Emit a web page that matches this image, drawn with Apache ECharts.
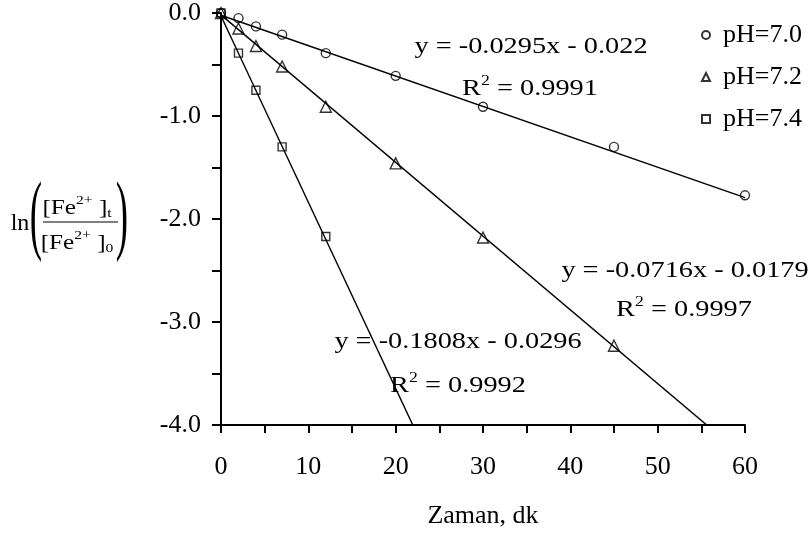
<!DOCTYPE html>
<html>
<head>
<meta charset="utf-8">
<script src="https://cdn.jsdelivr.net/npm/echarts@6/dist/echarts.min.js"></script>
<style>
  html, body { margin: 0; padding: 0; background: #fff; }
  #chart { width: 809px; height: 538px; }
</style>
</head>
<body>
<div id="chart"></div>
<script>
// Oxidation of Fe(II): ln([Fe2+]t/[Fe2+]0) against time at three pH values
const seriesNames = ['pH=7.0', 'pH=7.2', 'pH=7.4'];
const symbols = ['circle', 'triangle', 'rect'];

const time70 = [0, 2, 4, 7, 12, 20, 30, 45, 60];
const lnRatio70 = [0, -0.05, -0.13, -0.21, -0.39, -0.61, -0.91, -1.30, -1.77];

const time72 = [0, 2, 4, 7, 12, 20, 30, 45];
const lnRatio72 = [0, -0.15, -0.32, -0.52, -0.91, -1.46, -2.18, -3.23];

const time74 = [0, 2, 4, 7, 12];
const lnRatio74 = [0, -0.39, -0.75, -1.30, -2.17];

// linear fits y = slope*x + intercept
const slopes = [-0.0295, -0.0716, -0.1808];
const intercepts = [-0.022, -0.0179, -0.0296];
const rSquared = ['0.9991', '0.9997', '0.9992'];
const fitEndTime = 60;

const xTicks = [0, 10, 20, 30, 40, 50, 60];
const yTicks = [0, -1, -2, -3, -4];

const FONT = 'Liberation Serif, Times New Roman, serif';

function pairs(xs, ys) { return xs.map((x, i) => [x, ys[i]]); }
const times = [time70, time72, time74];
const values = [lnRatio70, lnRatio72, lnRatio74];

function eqText(i) {
  const m = slopes[i], b = intercepts[i];
  return 'y = ' + m.toString() + 'x ' + (b < 0 ? '- ' : '+ ') + Math.abs(b).toString();
}

// text width helper for laying out super/subscripts
const measureCtx = document.createElement('canvas').getContext('2d');
function textWidth(t, size) {
  measureCtx.font = size + 'px "Liberation Serif"';
  return measureCtx.measureText(t).width;
}
// a centred run of text pieces; each piece may be shifted up/down
function textRun(cx, cy, pieces, scaleX) {
  const total = pieces.reduce((s, p) => s + textWidth(p.t, p.size), 0);
  let x = -total / 2;
  const children = pieces.map(p => {
    const el = {
      type: 'text', x: x, y: p.dy || 0,
      style: { text: p.t, fontSize: p.size, fontFamily: FONT, fill: '#000',
               textAlign: 'left', textVerticalAlign: 'middle' }
    };
    x += textWidth(p.t, p.size);
    return el;
  });
  return { type: 'group', x: cx, y: cy, scaleX: scaleX, silent: true, z: 10, children: children };
}

const chart = echarts.init(document.getElementById('chart'), null, { renderer: 'canvas' });

const series = [];
for (let i = 0; i < 3; i++) {
  series.push({
    name: seriesNames[i] + ' fit',
    type: 'line',
    data: [[0, intercepts[i]], [fitEndTime, slopes[i] * fitEndTime + intercepts[i]]],
    showSymbol: false,
    clip: true,
    lineStyle: { color: '#000', width: 1.4 },
    silent: true,
    z: 2
  });
}
const symbolSizes = [9, 11, 8];
for (let i = 0; i < 3; i++) {
  series.push({
    name: seriesNames[i],
    type: 'scatter',
    data: pairs(times[i], values[i]),
    symbol: symbols[i],
    symbolSize: symbolSizes[i],
    itemStyle: { color: 'rgba(255,255,255,0)', borderColor: '#000', borderWidth: 1.4 },
    silent: true,
    z: 3
  });
}

// equation annotations: centre of equation line and of R² line
const eqPos = [[531, 47, 530, 89], [685, 271, 684, 310], [458, 342, 458, 386]];
const graphics = [];
for (let i = 0; i < 3; i++) {
  const p = eqPos[i];
  graphics.push({
    type: 'text', x: p[0], y: p[1], scaleX: 1.18, silent: true, z: 10,
    style: { text: eqText(i), fontSize: 24, fontFamily: FONT, fill: '#000',
             textAlign: 'center', textVerticalAlign: 'middle' }
  });
  graphics.push(textRun(p[2], p[3], [
    { t: 'R', size: 24 },
    { t: '2', size: 15, dy: -8 },
    { t: ' = ' + rSquared[i], size: 24 }
  ], 1.18));
}

// y-axis title: ln( [Fe2+]t / [Fe2+]0 )
graphics.push(
  { type: 'text', x: 20, y: 224, silent: true,
    style: { text: 'ln', fontSize: 24, fontFamily: FONT, fill: '#000', textAlign: 'center', textVerticalAlign: 'middle' } },
  { type: 'text', x: 36, y: 220, scaleX: 0.42, silent: true,
    style: { text: '(', fontSize: 88, fontFamily: FONT, fill: '#000', textAlign: 'center', textVerticalAlign: 'middle' } },
  { type: 'text', x: 122, y: 220, scaleX: 0.42, silent: true,
    style: { text: ')', fontSize: 88, fontFamily: FONT, fill: '#000', textAlign: 'center', textVerticalAlign: 'middle' } },
  textRun(77, 208, [
    { t: '[Fe', size: 21 }, { t: '2+', size: 13, dy: -7 }, { t: ' ]', size: 21 }, { t: 't', size: 13, dy: 6 }
  ], 1.2),
  { type: 'line', silent: true,
    shape: { x1: 43, y1: 222, x2: 118, y2: 222 }, style: { stroke: '#000', lineWidth: 1.2 } },
  textRun(77, 243, [
    { t: '[Fe', size: 21 }, { t: '2+', size: 13, dy: -7 }, { t: ' ]', size: 21 }, { t: '0', size: 13, dy: 6 }
  ], 1.2)
);

const option = {
  animation: false,
  backgroundColor: '#fff',
  grid: { left: 221, right: 64, top: 12.5, bottom: 113, containLabel: false },
  xAxis: {
    type: 'value', min: 0, max: 60, interval: 5,
    axisLine: { show: true, onZero: false, lineStyle: { color: '#000', width: 2 } },
    axisTick: { show: true, length: 8, lineStyle: { color: '#000', width: 2 } },
    splitLine: { show: false },
    axisLabel: {
      margin: 29, fontSize: 26, fontFamily: FONT, color: '#000',
      formatter: v => (xTicks.indexOf(v) >= 0 ? String(v) : '')
    },
    name: 'Zaman, dk', nameLocation: 'middle', nameGap: 78,
    nameTextStyle: { fontSize: 26, fontFamily: FONT, color: '#000' }
  },
  yAxis: {
    type: 'value', min: -4, max: 0, interval: 0.5,
    axisLine: { show: true, onZero: false, lineStyle: { color: '#000', width: 2 } },
    axisTick: { show: true, length: 9, lineStyle: { color: '#000', width: 2 } },
    splitLine: { show: false },
    axisLabel: {
      margin: 20, fontSize: 26, fontFamily: FONT, color: '#000',
      formatter: v => (yTicks.indexOf(v) >= 0 ? (v === 0 ? '0.0' : v.toFixed(1)) : '')
    }
  },
  legend: {
    orient: 'vertical', left: 696, top: 16,
    itemWidth: 8, itemHeight: 8, itemGap: 14,
    data: seriesNames.map((n, i) => ({ name: n, icon: symbols[i] })),
    textStyle: { fontSize: 26, fontFamily: FONT, color: '#000', lineHeight: 28, padding: [0, 0, 0, 8] },
    selectedMode: false
  },
  series: series,
  graphic: graphics
};
chart.setOption(option);
</script>
</body>
</html>
